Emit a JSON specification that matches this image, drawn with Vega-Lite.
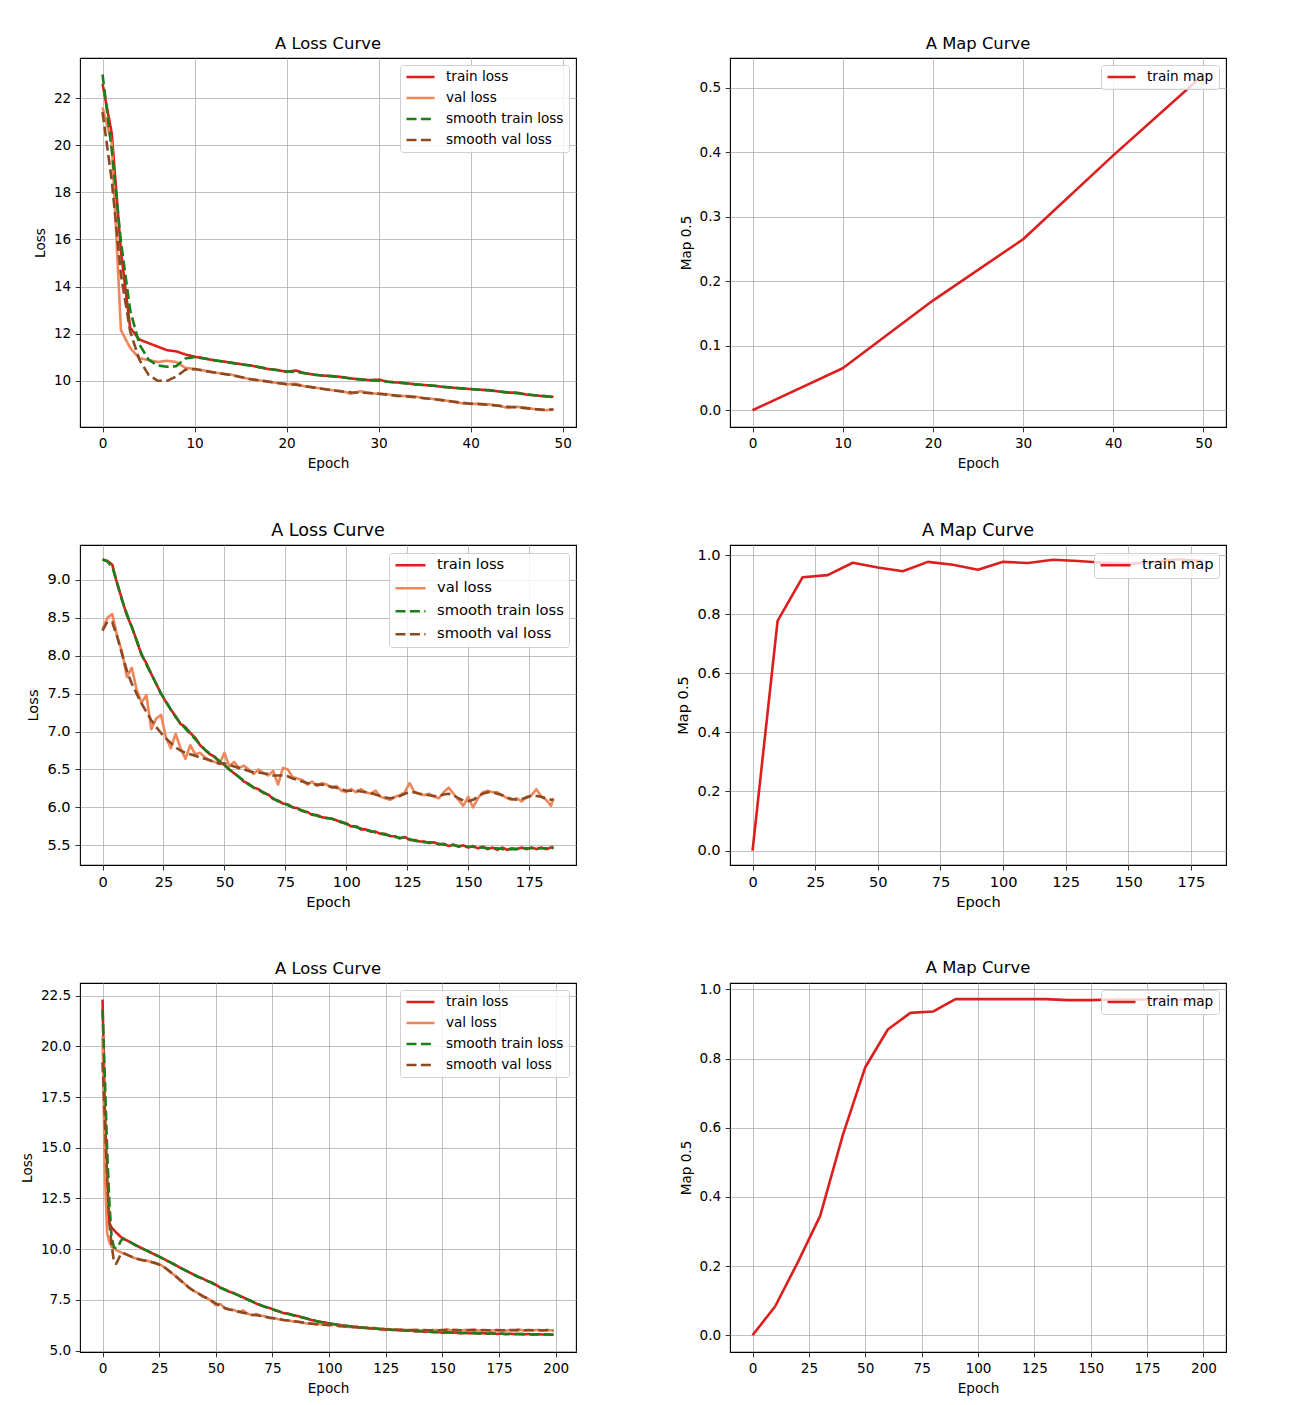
{
"$schema": "https://vega.github.io/schema/vega-lite/v6.json",
"autosize": {"type": "pad"},
"padding": {"left": 20, "top": 35, "right": 10, "bottom": 10},
"background": "white",
"config": {
 "font": "DejaVu Sans",
 "view": {"stroke": "black", "strokeWidth": 1.1},
 "axis": {"domain": false, "grid": true, "gridColor": "#b0b0b0", "gridWidth": 0.8, "gridOpacity": 1, "tickColor": "black", "tickSize": 4.8, "tickWidth": 0.8, "labelColor": "black", "titleColor": "black", "labelFontSize": 13.6, "titleFontSize": 13.6, "titleFontWeight": "normal", "labelPadding": 4.5, "labelFlush": false, "labelOverlap": false, "labelBound": false},
 "axisX": {"titlePadding": 6.3},
 "axisY": {"titlePadding": 5.6},
 "title": {"fontSize": 16.4, "fontWeight": "normal", "color": "black", "frame": "group", "anchor": "middle", "offset": 5.6},
 "line": {"strokeWidth": 2.6, "strokeJoin": "round"}
},
"datasets": {
 "l1": [
  {"e":0,"train":22.6,"val":21.6,"s_train":23.0,"s_val":21.4},
  {"e":1,"train":20.5,"val":20.1,"s_train":19.8,"s_val":18.5},
  {"e":2,"train":15.5,"val":12.15,"s_train":15.9,"s_val":14.5},
  {"e":3,"train":12.25,"val":11.4,"s_train":13.0,"s_val":12.1},
  {"e":4,"train":11.75,"val":10.96,"s_train":11.55,"s_val":10.9},
  {"e":5,"train":11.6,"val":10.88,"s_train":10.9,"s_val":10.25},
  {"e":6,"train":11.45,"val":10.8,"s_train":10.65,"s_val":10.0},
  {"e":7,"train":11.3,"val":10.85,"s_train":10.6,"s_val":10.0},
  {"e":8,"train":11.25,"val":10.8,"s_train":10.62,"s_val":10.18},
  {"e":9,"train":11.12,"val":10.55,"s_train":10.95,"s_val":10.47},
  {"e":10,"train":11.02,"val":10.5,"s_train":11.0,"s_val":10.5},
  {"e":11,"train":10.96,"val":10.44,"s_train":10.95,"s_val":10.43},
  {"e":12,"train":10.88,"val":10.36,"s_train":10.88,"s_val":10.36},
  {"e":13,"train":10.83,"val":10.31,"s_train":10.82,"s_val":10.3},
  {"e":14,"train":10.77,"val":10.26,"s_train":10.76,"s_val":10.24},
  {"e":15,"train":10.71,"val":10.16,"s_train":10.7,"s_val":10.16},
  {"e":16,"train":10.66,"val":10.07,"s_train":10.65,"s_val":10.08},
  {"e":17,"train":10.58,"val":10.02,"s_train":10.58,"s_val":10.02},
  {"e":18,"train":10.5,"val":9.96,"s_train":10.51,"s_val":9.97},
  {"e":19,"train":10.46,"val":9.91,"s_train":10.45,"s_val":9.91},
  {"e":20,"train":10.38,"val":9.85,"s_train":10.4,"s_val":9.86},
  {"e":21,"train":10.44,"val":9.88,"s_train":10.37,"s_val":9.83},
  {"e":22,"train":10.32,"val":9.76,"s_train":10.32,"s_val":9.77},
  {"e":23,"train":10.26,"val":9.72,"s_train":10.26,"s_val":9.71},
  {"e":24,"train":10.22,"val":9.66,"s_train":10.22,"s_val":9.65},
  {"e":25,"train":10.2,"val":9.6,"s_train":10.19,"s_val":9.6},
  {"e":26,"train":10.16,"val":9.56,"s_train":10.15,"s_val":9.55},
  {"e":27,"train":10.1,"val":9.45,"s_train":10.1,"s_val":9.51},
  {"e":28,"train":10.06,"val":9.56,"s_train":10.06,"s_val":9.5},
  {"e":29,"train":10.03,"val":9.48,"s_train":10.03,"s_val":9.48},
  {"e":30,"train":10.05,"val":9.45,"s_train":10.0,"s_val":9.45},
  {"e":31,"train":9.96,"val":9.43,"s_train":9.96,"s_val":9.41},
  {"e":32,"train":9.93,"val":9.35,"s_train":9.93,"s_val":9.37},
  {"e":33,"train":9.9,"val":9.36,"s_train":9.89,"s_val":9.34},
  {"e":34,"train":9.85,"val":9.33,"s_train":9.85,"s_val":9.3},
  {"e":35,"train":9.82,"val":9.25,"s_train":9.82,"s_val":9.26},
  {"e":36,"train":9.79,"val":9.23,"s_train":9.79,"s_val":9.22},
  {"e":37,"train":9.74,"val":9.18,"s_train":9.75,"s_val":9.17},
  {"e":38,"train":9.71,"val":9.12,"s_train":9.71,"s_val":9.12},
  {"e":39,"train":9.68,"val":9.05,"s_train":9.68,"s_val":9.07},
  {"e":40,"train":9.65,"val":9.02,"s_train":9.65,"s_val":9.03},
  {"e":41,"train":9.62,"val":9.02,"s_train":9.62,"s_val":9.01},
  {"e":42,"train":9.61,"val":9.0,"s_train":9.59,"s_val":8.98},
  {"e":43,"train":9.55,"val":8.95,"s_train":9.55,"s_val":8.94},
  {"e":44,"train":9.5,"val":8.85,"s_train":9.51,"s_val":8.9},
  {"e":45,"train":9.5,"val":8.9,"s_train":9.47,"s_val":8.88},
  {"e":46,"train":9.42,"val":8.85,"s_train":9.43,"s_val":8.84},
  {"e":47,"train":9.38,"val":8.8,"s_train":9.39,"s_val":8.8},
  {"e":48,"train":9.35,"val":8.75,"s_train":9.35,"s_val":8.77},
  {"e":49,"train":9.32,"val":8.78,"s_train":9.31,"s_val":8.78}
 ],
 "m1": [
  {"e":0,"map":0.0},{"e":10,"map":0.065},{"e":20,"map":0.17},{"e":30,"map":0.265},{"e":40,"map":0.395},{"e":50,"map":0.52}
 ],
 "l2": [
  {"e":0,"train":9.27,"val":8.35,"s_train":9.27,"s_val":8.33},
  {"e":2,"train":9.25,"val":8.5,"s_train":9.24,"s_val":8.45},
  {"e":4,"train":9.2,"val":8.55,"s_train":9.17,"s_val":8.44},
  {"e":6,"train":8.95,"val":8.26,"s_train":8.96,"s_val":8.25},
  {"e":8,"train":8.74,"val":8.05,"s_train":8.73,"s_val":8.02},
  {"e":10,"train":8.53,"val":7.72,"s_train":8.55,"s_val":7.8},
  {"e":12,"train":8.38,"val":7.84,"s_train":8.38,"s_val":7.63},
  {"e":14,"train":8.2,"val":7.55,"s_train":8.2,"s_val":7.5},
  {"e":16,"train":8.01,"val":7.38,"s_train":8.02,"s_val":7.37},
  {"e":18,"train":7.9,"val":7.48,"s_train":7.88,"s_val":7.26},
  {"e":20,"train":7.76,"val":7.03,"s_train":7.76,"s_val":7.15},
  {"e":22,"train":7.63,"val":7.17,"s_train":7.63,"s_val":7.06},
  {"e":24,"train":7.5,"val":7.22,"s_train":7.5,"s_val":6.98},
  {"e":26,"train":7.39,"val":6.92,"s_train":7.4,"s_val":6.91},
  {"e":28,"train":7.29,"val":6.78,"s_train":7.29,"s_val":6.85},
  {"e":30,"train":7.2,"val":6.97,"s_train":7.19,"s_val":6.79},
  {"e":32,"train":7.1,"val":6.78,"s_train":7.11,"s_val":6.75},
  {"e":34,"train":7.06,"val":6.64,"s_train":7.04,"s_val":6.72},
  {"e":36,"train":6.98,"val":6.82,"s_train":6.97,"s_val":6.7},
  {"e":38,"train":6.92,"val":6.7,"s_train":6.9,"s_val":6.68},
  {"e":40,"train":6.82,"val":6.72,"s_train":6.83,"s_val":6.66},
  {"e":42,"train":6.76,"val":6.66,"s_train":6.76,"s_val":6.64},
  {"e":44,"train":6.7,"val":6.62,"s_train":6.71,"s_val":6.62},
  {"e":46,"train":6.67,"val":6.6,"s_train":6.66,"s_val":6.6},
  {"e":48,"train":6.6,"val":6.57,"s_train":6.61,"s_val":6.58},
  {"e":50,"train":6.56,"val":6.72,"s_train":6.56,"s_val":6.58},
  {"e":52,"train":6.5,"val":6.54,"s_train":6.5,"s_val":6.56},
  {"e":54,"train":6.45,"val":6.6,"s_train":6.45,"s_val":6.54},
  {"e":56,"train":6.4,"val":6.52,"s_train":6.4,"s_val":6.52},
  {"e":58,"train":6.34,"val":6.55,"s_train":6.35,"s_val":6.5},
  {"e":60,"train":6.31,"val":6.5,"s_train":6.3,"s_val":6.48},
  {"e":62,"train":6.26,"val":6.44,"s_train":6.26,"s_val":6.46},
  {"e":64,"train":6.24,"val":6.5,"s_train":6.23,"s_val":6.46},
  {"e":66,"train":6.19,"val":6.45,"s_train":6.2,"s_val":6.45},
  {"e":68,"train":6.17,"val":6.42,"s_train":6.16,"s_val":6.44},
  {"e":70,"train":6.11,"val":6.48,"s_train":6.12,"s_val":6.42},
  {"e":72,"train":6.09,"val":6.3,"s_train":6.08,"s_val":6.42},
  {"e":74,"train":6.05,"val":6.52,"s_train":6.06,"s_val":6.42},
  {"e":76,"train":6.04,"val":6.5,"s_train":6.03,"s_val":6.41},
  {"e":78,"train":6.0,"val":6.4,"s_train":6.0,"s_val":6.38},
  {"e":80,"train":5.99,"val":6.38,"s_train":5.98,"s_val":6.36},
  {"e":82,"train":5.95,"val":6.36,"s_train":5.96,"s_val":6.34},
  {"e":84,"train":5.94,"val":6.3,"s_train":5.93,"s_val":6.32},
  {"e":86,"train":5.9,"val":6.34,"s_train":5.91,"s_val":6.31},
  {"e":88,"train":5.9,"val":6.28,"s_train":5.89,"s_val":6.3},
  {"e":90,"train":5.87,"val":6.32,"s_train":5.87,"s_val":6.3},
  {"e":92,"train":5.86,"val":6.3,"s_train":5.86,"s_val":6.29},
  {"e":94,"train":5.85,"val":6.26,"s_train":5.85,"s_val":6.27},
  {"e":96,"train":5.83,"val":6.28,"s_train":5.83,"s_val":6.26},
  {"e":98,"train":5.8,"val":6.22,"s_train":5.81,"s_val":6.24},
  {"e":100,"train":5.79,"val":6.2,"s_train":5.78,"s_val":6.22},
  {"e":102,"train":5.75,"val":6.24,"s_train":5.76,"s_val":6.22},
  {"e":104,"train":5.75,"val":6.2,"s_train":5.74,"s_val":6.22},
  {"e":106,"train":5.71,"val":6.24,"s_train":5.72,"s_val":6.21},
  {"e":108,"train":5.71,"val":6.2,"s_train":5.7,"s_val":6.2},
  {"e":110,"train":5.68,"val":6.18,"s_train":5.69,"s_val":6.19},
  {"e":112,"train":5.68,"val":6.22,"s_train":5.67,"s_val":6.17},
  {"e":114,"train":5.65,"val":6.14,"s_train":5.66,"s_val":6.15},
  {"e":116,"train":5.65,"val":6.12,"s_train":5.64,"s_val":6.13},
  {"e":118,"train":5.62,"val":6.1,"s_train":5.63,"s_val":6.12},
  {"e":120,"train":5.62,"val":6.14,"s_train":5.61,"s_val":6.13},
  {"e":122,"train":5.59,"val":6.16,"s_train":5.6,"s_val":6.15},
  {"e":124,"train":5.61,"val":6.2,"s_train":5.6,"s_val":6.18},
  {"e":126,"train":5.57,"val":6.32,"s_train":5.58,"s_val":6.2},
  {"e":128,"train":5.57,"val":6.2,"s_train":5.56,"s_val":6.2},
  {"e":130,"train":5.55,"val":6.18,"s_train":5.55,"s_val":6.18},
  {"e":132,"train":5.55,"val":6.16,"s_train":5.54,"s_val":6.17},
  {"e":134,"train":5.53,"val":6.18,"s_train":5.54,"s_val":6.16},
  {"e":136,"train":5.54,"val":6.14,"s_train":5.53,"s_val":6.15},
  {"e":138,"train":5.51,"val":6.12,"s_train":5.52,"s_val":6.15},
  {"e":140,"train":5.52,"val":6.2,"s_train":5.51,"s_val":6.17},
  {"e":142,"train":5.49,"val":6.26,"s_train":5.5,"s_val":6.18},
  {"e":144,"train":5.51,"val":6.18,"s_train":5.5,"s_val":6.16},
  {"e":146,"train":5.48,"val":6.1,"s_train":5.49,"s_val":6.12},
  {"e":148,"train":5.5,"val":6.02,"s_train":5.49,"s_val":6.09},
  {"e":150,"train":5.47,"val":6.14,"s_train":5.48,"s_val":6.08},
  {"e":152,"train":5.49,"val":6.0,"s_train":5.48,"s_val":6.1},
  {"e":154,"train":5.46,"val":6.12,"s_train":5.47,"s_val":6.14},
  {"e":156,"train":5.48,"val":6.2,"s_train":5.47,"s_val":6.18},
  {"e":158,"train":5.45,"val":6.22,"s_train":5.46,"s_val":6.2},
  {"e":160,"train":5.47,"val":6.2,"s_train":5.46,"s_val":6.2},
  {"e":162,"train":5.44,"val":6.2,"s_train":5.46,"s_val":6.18},
  {"e":164,"train":5.47,"val":6.16,"s_train":5.45,"s_val":6.16},
  {"e":166,"train":5.44,"val":6.12,"s_train":5.45,"s_val":6.13},
  {"e":168,"train":5.46,"val":6.1,"s_train":5.45,"s_val":6.11},
  {"e":170,"train":5.45,"val":6.12,"s_train":5.45,"s_val":6.1},
  {"e":172,"train":5.47,"val":6.08,"s_train":5.46,"s_val":6.11},
  {"e":174,"train":5.45,"val":6.14,"s_train":5.46,"s_val":6.13},
  {"e":176,"train":5.47,"val":6.16,"s_train":5.46,"s_val":6.15},
  {"e":178,"train":5.45,"val":6.24,"s_train":5.46,"s_val":6.15},
  {"e":180,"train":5.47,"val":6.14,"s_train":5.46,"s_val":6.14},
  {"e":182,"train":5.45,"val":6.1,"s_train":5.46,"s_val":6.12},
  {"e":184,"train":5.47,"val":6.02,"s_train":5.46,"s_val":6.1},
  {"e":185,"train":5.48,"val":6.12,"s_train":5.47,"s_val":6.1}
 ],
 "m2": [
  {"e":0,"map":0.0},{"e":10,"map":0.777},{"e":20,"map":0.925},{"e":30,"map":0.932},{"e":40,"map":0.974},{"e":50,"map":0.958},{"e":60,"map":0.945},{"e":70,"map":0.977},{"e":80,"map":0.967},{"e":90,"map":0.95},{"e":100,"map":0.977},{"e":110,"map":0.973},{"e":120,"map":0.984},{"e":130,"map":0.98},{"e":140,"map":0.974},{"e":150,"map":0.97},{"e":160,"map":0.976},{"e":170,"map":0.986},{"e":180,"map":0.98}
 ],
 "l3": [
  {"e":0,"train":22.3,"val":20.5,"s_train":21.8,"s_val":19.2},
  {"e":1,"train":17.0,"val":14.0,"s_train":18.5,"s_val":16.5},
  {"e":2,"train":13.0,"val":10.8,"s_train":15.0,"s_val":13.6},
  {"e":3,"train":11.3,"val":10.35,"s_train":12.3,"s_val":11.3},
  {"e":4,"train":11.05,"val":10.12,"s_train":10.6,"s_val":10.2},
  {"e":5,"train":10.95,"val":10.02,"s_train":10.1,"s_val":9.4},
  {"e":6,"train":10.82,"val":9.96,"s_train":10.05,"s_val":9.28},
  {"e":7,"train":10.72,"val":9.9,"s_train":10.15,"s_val":9.5},
  {"e":8,"train":10.6,"val":9.85,"s_train":10.4,"s_val":9.75},
  {"e":9,"train":10.54,"val":9.8,"s_train":10.52,"s_val":9.8},
  {"e":10,"train":10.47,"val":9.76,"s_train":10.48,"s_val":9.77},
  {"e":12,"train":10.36,"val":9.66,"s_train":10.36,"s_val":9.67},
  {"e":14,"train":10.23,"val":9.56,"s_train":10.23,"s_val":9.57},
  {"e":16,"train":10.12,"val":9.5,"s_train":10.12,"s_val":9.5},
  {"e":18,"train":10.01,"val":9.44,"s_train":10.0,"s_val":9.45},
  {"e":20,"train":9.9,"val":9.42,"s_train":9.9,"s_val":9.41},
  {"e":22,"train":9.79,"val":9.35,"s_train":9.8,"s_val":9.35},
  {"e":24,"train":9.69,"val":9.3,"s_train":9.68,"s_val":9.28},
  {"e":26,"train":9.57,"val":9.2,"s_train":9.58,"s_val":9.19},
  {"e":28,"train":9.46,"val":9.05,"s_train":9.45,"s_val":9.05},
  {"e":30,"train":9.34,"val":8.85,"s_train":9.35,"s_val":8.88},
  {"e":32,"train":9.23,"val":8.7,"s_train":9.22,"s_val":8.69},
  {"e":34,"train":9.1,"val":8.48,"s_train":9.1,"s_val":8.5},
  {"e":36,"train":8.99,"val":8.32,"s_train":8.98,"s_val":8.3},
  {"e":38,"train":8.87,"val":8.1,"s_train":8.88,"s_val":8.12},
  {"e":40,"train":8.76,"val":7.96,"s_train":8.75,"s_val":7.96},
  {"e":42,"train":8.64,"val":7.84,"s_train":8.65,"s_val":7.84},
  {"e":44,"train":8.56,"val":7.7,"s_train":8.55,"s_val":7.7},
  {"e":46,"train":8.44,"val":7.6,"s_train":8.45,"s_val":7.58},
  {"e":48,"train":8.36,"val":7.44,"s_train":8.35,"s_val":7.46},
  {"e":50,"train":8.25,"val":7.24,"s_train":8.22,"s_val":7.32},
  {"e":52,"train":8.1,"val":7.3,"s_train":8.1,"s_val":7.2},
  {"e":54,"train":8.01,"val":7.08,"s_train":8.0,"s_val":7.1},
  {"e":56,"train":7.9,"val":7.02,"s_train":7.9,"s_val":7.03},
  {"e":58,"train":7.83,"val":7.0,"s_train":7.82,"s_val":6.97},
  {"e":60,"train":7.72,"val":6.9,"s_train":7.72,"s_val":6.92},
  {"e":62,"train":7.63,"val":6.98,"s_train":7.62,"s_val":6.87},
  {"e":64,"train":7.51,"val":6.82,"s_train":7.52,"s_val":6.82},
  {"e":66,"train":7.43,"val":6.74,"s_train":7.42,"s_val":6.77},
  {"e":68,"train":7.31,"val":6.8,"s_train":7.32,"s_val":6.74},
  {"e":70,"train":7.23,"val":6.72,"s_train":7.22,"s_val":6.7},
  {"e":72,"train":7.14,"val":6.68,"s_train":7.15,"s_val":6.66},
  {"e":74,"train":7.09,"val":6.6,"s_train":7.08,"s_val":6.62},
  {"e":76,"train":6.99,"val":6.6,"s_train":7.0,"s_val":6.58},
  {"e":78,"train":6.93,"val":6.54,"s_train":6.92,"s_val":6.55},
  {"e":80,"train":6.84,"val":6.5,"s_train":6.85,"s_val":6.51},
  {"e":82,"train":6.82,"val":6.48,"s_train":6.8,"s_val":6.48},
  {"e":84,"train":6.74,"val":6.44,"s_train":6.75,"s_val":6.45},
  {"e":86,"train":6.71,"val":6.43,"s_train":6.7,"s_val":6.42},
  {"e":88,"train":6.63,"val":6.38,"s_train":6.64,"s_val":6.39},
  {"e":90,"train":6.59,"val":6.34,"s_train":6.58,"s_val":6.36},
  {"e":92,"train":6.51,"val":6.33,"s_train":6.52,"s_val":6.33},
  {"e":94,"train":6.47,"val":6.29,"s_train":6.46,"s_val":6.31},
  {"e":96,"train":6.41,"val":6.3,"s_train":6.42,"s_val":6.29},
  {"e":98,"train":6.39,"val":6.27,"s_train":6.38,"s_val":6.27},
  {"e":100,"train":6.33,"val":6.25,"s_train":6.34,"s_val":6.26},
  {"e":102,"train":6.31,"val":6.3,"s_train":6.3,"s_val":6.24},
  {"e":104,"train":6.28,"val":6.21,"s_train":6.27,"s_val":6.22},
  {"e":106,"train":6.23,"val":6.2,"s_train":6.24,"s_val":6.2},
  {"e":108,"train":6.22,"val":6.17,"s_train":6.21,"s_val":6.18},
  {"e":110,"train":6.17,"val":6.16,"s_train":6.18,"s_val":6.17},
  {"e":112,"train":6.17,"val":6.18,"s_train":6.16,"s_val":6.15},
  {"e":114,"train":6.13,"val":6.11,"s_train":6.14,"s_val":6.13},
  {"e":116,"train":6.13,"val":6.14,"s_train":6.12,"s_val":6.12},
  {"e":118,"train":6.09,"val":6.1,"s_train":6.1,"s_val":6.1},
  {"e":120,"train":6.1,"val":6.12,"s_train":6.09,"s_val":6.09},
  {"e":122,"train":6.06,"val":6.08,"s_train":6.07,"s_val":6.07},
  {"e":124,"train":6.07,"val":6.0,"s_train":6.06,"s_val":6.05},
  {"e":126,"train":6.03,"val":6.06,"s_train":6.04,"s_val":6.04},
  {"e":128,"train":6.03,"val":6.04,"s_train":6.02,"s_val":6.03},
  {"e":130,"train":6.0,"val":6.05,"s_train":6.01,"s_val":6.03},
  {"e":132,"train":6.01,"val":6.0,"s_train":6.0,"s_val":6.02},
  {"e":134,"train":5.98,"val":6.02,"s_train":5.99,"s_val":6.01},
  {"e":136,"train":5.99,"val":6.0,"s_train":5.98,"s_val":6.01},
  {"e":138,"train":5.95,"val":6.02,"s_train":5.96,"s_val":6.01},
  {"e":140,"train":5.96,"val":6.0,"s_train":5.95,"s_val":6.01},
  {"e":142,"train":5.93,"val":6.02,"s_train":5.94,"s_val":6.0},
  {"e":144,"train":5.94,"val":5.98,"s_train":5.93,"s_val":6.0},
  {"e":146,"train":5.91,"val":6.02,"s_train":5.92,"s_val":6.0},
  {"e":148,"train":5.92,"val":6.0,"s_train":5.91,"s_val":6.0},
  {"e":150,"train":5.88,"val":5.98,"s_train":5.9,"s_val":6.01},
  {"e":152,"train":5.9,"val":6.05,"s_train":5.89,"s_val":6.01},
  {"e":154,"train":5.88,"val":6.0,"s_train":5.89,"s_val":6.01},
  {"e":156,"train":5.89,"val":6.02,"s_train":5.88,"s_val":6.01},
  {"e":158,"train":5.85,"val":5.98,"s_train":5.87,"s_val":6.0},
  {"e":160,"train":5.88,"val":6.02,"s_train":5.87,"s_val":6.0},
  {"e":162,"train":5.85,"val":6.0,"s_train":5.86,"s_val":6.01},
  {"e":164,"train":5.87,"val":6.04,"s_train":5.86,"s_val":6.01},
  {"e":166,"train":5.84,"val":5.98,"s_train":5.85,"s_val":6.0},
  {"e":168,"train":5.86,"val":6.02,"s_train":5.85,"s_val":6.0},
  {"e":170,"train":5.83,"val":6.0,"s_train":5.84,"s_val":6.0},
  {"e":172,"train":5.85,"val":5.98,"s_train":5.84,"s_val":6.0},
  {"e":174,"train":5.82,"val":6.02,"s_train":5.83,"s_val":6.0},
  {"e":176,"train":5.84,"val":6.0,"s_train":5.83,"s_val":6.0},
  {"e":178,"train":5.81,"val":5.98,"s_train":5.82,"s_val":6.0},
  {"e":180,"train":5.83,"val":6.02,"s_train":5.82,"s_val":6.0},
  {"e":182,"train":5.81,"val":6.0,"s_train":5.82,"s_val":6.01},
  {"e":184,"train":5.82,"val":6.04,"s_train":5.81,"s_val":6.01},
  {"e":186,"train":5.8,"val":5.98,"s_train":5.81,"s_val":6.0},
  {"e":188,"train":5.82,"val":6.02,"s_train":5.81,"s_val":6.0},
  {"e":190,"train":5.79,"val":6.0,"s_train":5.8,"s_val":6.0},
  {"e":192,"train":5.81,"val":6.02,"s_train":5.8,"s_val":6.0},
  {"e":194,"train":5.79,"val":5.98,"s_train":5.8,"s_val":6.0},
  {"e":196,"train":5.8,"val":6.02,"s_train":5.79,"s_val":6.0},
  {"e":198,"train":5.78,"val":6.0,"s_train":5.79,"s_val":5.99},
  {"e":199,"train":5.78,"val":5.98,"s_train":5.78,"s_val":5.98}
 ],
 "m3": [
  {"e":0,"map":0.0},{"e":10,"map":0.083},{"e":20,"map":0.21},{"e":30,"map":0.345},{"e":40,"map":0.578},{"e":50,"map":0.775},{"e":60,"map":0.884},{"e":70,"map":0.932},{"e":80,"map":0.936},{"e":90,"map":0.972},{"e":100,"map":0.972},{"e":110,"map":0.972},{"e":120,"map":0.972},{"e":130,"map":0.972},{"e":140,"map":0.969},{"e":150,"map":0.969},{"e":160,"map":0.971},{"e":170,"map":0.971},{"e":180,"map":0.971},{"e":190,"map":0.971},{"e":200,"map":0.971}
 ]
},
"columns": 2,
"spacing": {"row": 118, "column": 154},
"bounds": "flush",
"resolve": {"scale": {"color": "independent", "strokeDash": "independent"}},
"concat": [
 {
  "width": 496, "height": 369,
  "title": {"text": "A Loss Curve"},
  "data": {"name": "l1"},
  "transform": [{"fold": ["train", "val", "s_train", "s_val"], "as": ["s", "v"]}],
  "encoding": {
   "x": {"field": "e", "type": "quantitative", "scale": {"domain": [-2.45, 51.45], "nice": false, "zero": false}, "axis": {"values": [0,10,20,30,40,50], "title": "Epoch"}},
   "y": {"field": "v", "type": "quantitative", "scale": {"domain": [8.04, 23.7], "nice": false, "zero": false}, "axis": {"values": [10,12,14,16,18,20,22], "title": "Loss"}},
   "color": {"field": "s", "type": "nominal", "scale": {"domain": ["train","val","s_train","s_val"], "range": ["#dc1e1e","#ef865a","#1a7f1a","#8b4a22"]},
     "legend": {"title": null, "orient": "top-right", "offset": 7, "padding": 5, "rowPadding": 7, "clipHeight": 14, "symbolSize": 784, "symbolStrokeWidth": 2.6, "labelOffset": 10, "labelFontSize": 13.6, "labelColor": "black", "fillColor": "rgba(255,255,255,0.8)", "strokeColor": "#d0d0d0", "cornerRadius": 3, "labelExpr": "{'train':'train loss','val':'val loss','s_train':'smooth train loss','s_val':'smooth val loss'}[datum.value]"}},
   "strokeDash": {"field": "s", "type": "nominal", "scale": {"domain": ["train","val","s_train","s_val"], "range": [[1,0],[1,0],[10,4.4],[10,4.4]]},
     "legend": {"title": null, "orient": "top-right", "offset": 7, "padding": 5, "rowPadding": 7, "clipHeight": 14, "symbolSize": 784, "symbolStrokeWidth": 2.6, "labelOffset": 10, "labelFontSize": 13.6, "labelColor": "black", "fillColor": "rgba(255,255,255,0.8)", "strokeColor": "#d0d0d0", "cornerRadius": 3, "labelExpr": "{'train':'train loss','val':'val loss','s_train':'smooth train loss','s_val':'smooth val loss'}[datum.value]"}}
  },
  "layer": [
   {"transform": [{"filter": "datum.s == 'train'"}], "mark": "line"},
   {"transform": [{"filter": "datum.s == 'val'"}], "mark": "line"},
   {"transform": [{"filter": "datum.s == 's_train'"}], "mark": "line"},
   {"transform": [{"filter": "datum.s == 's_val'"}], "mark": "line"}
  ]
 },
 {
  "width": 496, "height": 369,
  "title": {"text": "A Map Curve"},
  "data": {"name": "m1"},
  "mark": "line",
  "encoding": {
   "x": {"field": "e", "type": "quantitative", "scale": {"domain": [-2.5, 52.5], "nice": false, "zero": false}, "axis": {"values": [0,10,20,30,40,50], "title": "Epoch"}},
   "y": {"field": "map", "type": "quantitative", "scale": {"domain": [-0.026, 0.546], "nice": false, "zero": false}, "axis": {"values": [0,0.1,0.2,0.3,0.4,0.5], "format": ".1f", "title": "Map 0.5"}},
   "color": {"datum": "train map", "type": "nominal", "scale": {"domain": ["train map"], "range": ["#dc1e1e"]},
     "legend": {"title": null, "orient": "top-right", "offset": 7, "padding": 5, "rowPadding": 7, "clipHeight": 14, "symbolSize": 784, "symbolStrokeWidth": 2.6, "labelOffset": 10, "labelFontSize": 13.6, "labelColor": "black", "fillColor": "rgba(255,255,255,0.8)", "strokeColor": "#d0d0d0", "cornerRadius": 3}}
  }
 },
 {
  "width": 496, "height": 320,
  "title": {"text": "A Loss Curve", "fontSize": 17.6, "offset": 5.9},
  "data": {"name": "l2"},
  "transform": [{"fold": ["train", "val", "s_train", "s_val"], "as": ["s", "v"]}],
  "encoding": {
   "x": {"field": "e", "type": "quantitative", "scale": {"domain": [-9.25, 194.25], "nice": false, "zero": false}, "axis": {"values": [0,25,50,75,100,125,150,175], "title": "Epoch", "labelFontSize": 14.6, "titleFontSize": 14.6, "tickSize": 5.1, "labelPadding": 4.8, "titlePadding": 5.3}},
   "y": {"field": "v", "type": "quantitative", "scale": {"domain": [5.24, 9.46], "nice": false, "zero": false}, "axis": {"values": [5.5,6,6.5,7,7.5,8,8.5,9], "format": ".1f", "title": "Loss", "labelFontSize": 14.6, "titleFontSize": 14.6, "tickSize": 5.1, "labelPadding": 4.8, "titlePadding": 6}},
   "color": {"field": "s", "type": "nominal", "scale": {"domain": ["train","val","s_train","s_val"], "range": ["#dc1e1e","#ef865a","#1a7f1a","#8b4a22"]},
     "legend": {"title": null, "orient": "top-right", "offset": 7.5, "padding": 5, "rowPadding": 7, "clipHeight": 14.6, "symbolSize": 900, "symbolStrokeWidth": 2.6, "labelOffset": 10, "labelFontSize": 14.7, "labelColor": "black", "fillColor": "rgba(255,255,255,0.8)", "strokeColor": "#d0d0d0", "cornerRadius": 3, "labelExpr": "{'train':'train loss','val':'val loss','s_train':'smooth train loss','s_val':'smooth val loss'}[datum.value]"}},
   "strokeDash": {"field": "s", "type": "nominal", "scale": {"domain": ["train","val","s_train","s_val"], "range": [[1,0],[1,0],[10,4.4],[10,4.4]]},
     "legend": {"title": null, "orient": "top-right", "offset": 7.5, "padding": 5, "rowPadding": 7, "clipHeight": 14.6, "symbolSize": 900, "symbolStrokeWidth": 2.6, "labelOffset": 10, "labelFontSize": 14.7, "labelColor": "black", "fillColor": "rgba(255,255,255,0.8)", "strokeColor": "#d0d0d0", "cornerRadius": 3, "labelExpr": "{'train':'train loss','val':'val loss','s_train':'smooth train loss','s_val':'smooth val loss'}[datum.value]"}}
  },
  "layer": [
   {"transform": [{"filter": "datum.s == 'train'"}], "mark": "line"},
   {"transform": [{"filter": "datum.s == 'val'"}], "mark": "line"},
   {"transform": [{"filter": "datum.s == 's_train'"}], "mark": "line"},
   {"transform": [{"filter": "datum.s == 's_val'"}], "mark": "line"}
  ]
 },
 {
  "width": 496, "height": 320,
  "title": {"text": "A Map Curve", "fontSize": 17.6, "offset": 5.9},
  "data": {"name": "m2"},
  "mark": "line",
  "encoding": {
   "x": {"field": "e", "type": "quantitative", "scale": {"domain": [-9, 189], "nice": false, "zero": false}, "axis": {"values": [0,25,50,75,100,125,150,175], "title": "Epoch", "labelFontSize": 14.6, "titleFontSize": 14.6, "tickSize": 5.1, "labelPadding": 4.8, "titlePadding": 5.3}},
   "y": {"field": "map", "type": "quantitative", "scale": {"domain": [-0.049, 1.034], "nice": false, "zero": false}, "axis": {"values": [0,0.2,0.4,0.6,0.8,1.0], "format": ".1f", "title": "Map 0.5", "labelFontSize": 14.6, "titleFontSize": 14.6, "tickSize": 5.1, "labelPadding": 4.8, "titlePadding": 6}},
   "color": {"datum": "train map", "type": "nominal", "scale": {"domain": ["train map"], "range": ["#dc1e1e"]},
     "legend": {"title": null, "orient": "top-right", "offset": 7.5, "padding": 5, "rowPadding": 7, "clipHeight": 14.6, "symbolSize": 900, "symbolStrokeWidth": 2.6, "labelOffset": 10, "labelFontSize": 14.7, "labelColor": "black", "fillColor": "rgba(255,255,255,0.8)", "strokeColor": "#d0d0d0", "cornerRadius": 3}}
  }
 },
 {
  "width": 496, "height": 369,
  "title": {"text": "A Loss Curve"},
  "data": {"name": "l3"},
  "transform": [{"fold": ["train", "val", "s_train", "s_val"], "as": ["s", "v"]}],
  "encoding": {
   "x": {"field": "e", "type": "quantitative", "scale": {"domain": [-9.95, 208.95], "nice": false, "zero": false}, "axis": {"values": [0,25,50,75,100,125,150,175,200], "title": "Epoch"}},
   "y": {"field": "v", "type": "quantitative", "scale": {"domain": [4.93, 23.12], "nice": false, "zero": false}, "axis": {"values": [5,7.5,10,12.5,15,17.5,20,22.5], "format": ".1f", "title": "Loss"}},
   "color": {"field": "s", "type": "nominal", "scale": {"domain": ["train","val","s_train","s_val"], "range": ["#dc1e1e","#ef865a","#1a7f1a","#8b4a22"]},
     "legend": {"title": null, "orient": "top-right", "offset": 7, "padding": 5, "rowPadding": 7, "clipHeight": 14, "symbolSize": 784, "symbolStrokeWidth": 2.6, "labelOffset": 10, "labelFontSize": 13.6, "labelColor": "black", "fillColor": "rgba(255,255,255,0.8)", "strokeColor": "#d0d0d0", "cornerRadius": 3, "labelExpr": "{'train':'train loss','val':'val loss','s_train':'smooth train loss','s_val':'smooth val loss'}[datum.value]"}},
   "strokeDash": {"field": "s", "type": "nominal", "scale": {"domain": ["train","val","s_train","s_val"], "range": [[1,0],[1,0],[10,4.4],[10,4.4]]},
     "legend": {"title": null, "orient": "top-right", "offset": 7, "padding": 5, "rowPadding": 7, "clipHeight": 14, "symbolSize": 784, "symbolStrokeWidth": 2.6, "labelOffset": 10, "labelFontSize": 13.6, "labelColor": "black", "fillColor": "rgba(255,255,255,0.8)", "strokeColor": "#d0d0d0", "cornerRadius": 3, "labelExpr": "{'train':'train loss','val':'val loss','s_train':'smooth train loss','s_val':'smooth val loss'}[datum.value]"}}
  },
  "layer": [
   {"transform": [{"filter": "datum.s == 'train'"}], "mark": "line"},
   {"transform": [{"filter": "datum.s == 'val'"}], "mark": "line"},
   {"transform": [{"filter": "datum.s == 's_train'"}], "mark": "line"},
   {"transform": [{"filter": "datum.s == 's_val'"}], "mark": "line"}
  ]
 },
 {
  "width": 496, "height": 369,
  "title": {"text": "A Map Curve"},
  "data": {"name": "m3"},
  "mark": "line",
  "encoding": {
   "x": {"field": "e", "type": "quantitative", "scale": {"domain": [-10, 210], "nice": false, "zero": false}, "axis": {"values": [0,25,50,75,100,125,150,175,200], "title": "Epoch"}},
   "y": {"field": "map", "type": "quantitative", "scale": {"domain": [-0.0485, 1.0185], "nice": false, "zero": false}, "axis": {"values": [0,0.2,0.4,0.6,0.8,1.0], "format": ".1f", "title": "Map 0.5"}},
   "color": {"datum": "train map", "type": "nominal", "scale": {"domain": ["train map"], "range": ["#dc1e1e"]},
     "legend": {"title": null, "orient": "top-right", "offset": 7, "padding": 5, "rowPadding": 7, "clipHeight": 14, "symbolSize": 784, "symbolStrokeWidth": 2.6, "labelOffset": 10, "labelFontSize": 13.6, "labelColor": "black", "fillColor": "rgba(255,255,255,0.8)", "strokeColor": "#d0d0d0", "cornerRadius": 3}}
  }
 }
]
}
